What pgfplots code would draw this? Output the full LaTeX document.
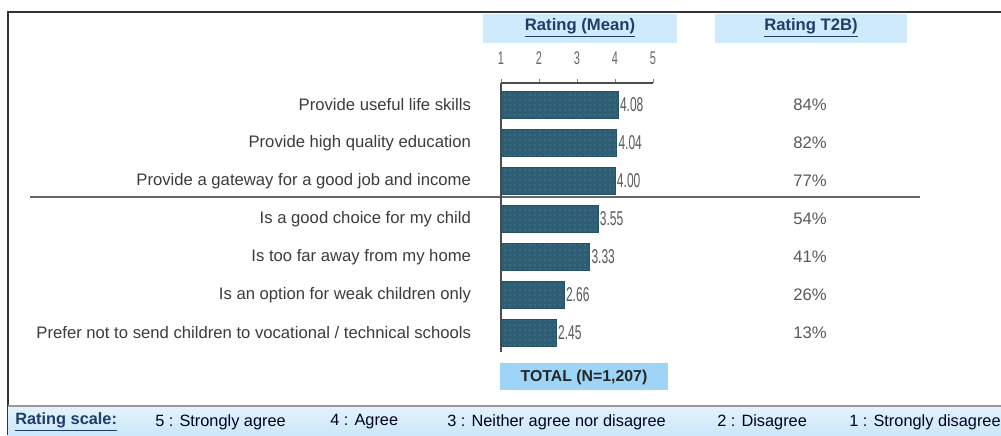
\documentclass[border=0pt]{standalone}
\usepackage{fontspec}
\setmainfont{Liberation Sans}
\usepackage{graphicx}
\usepackage{pgfplots}
\pgfplotsset{compat=1.18}
\usepackage{pgfplotstable}
\usetikzlibrary{patterns}

\definecolor{barfill}{HTML}{2E5E74}
\definecolor{bardot}{HTML}{46798E}
\definecolor{hdrblue}{HTML}{CFEAFB}
\definecolor{hdrtext}{HTML}{1F3D6B}
\definecolor{totblue}{HTML}{9ED5F6}
\definecolor{striptop}{HTML}{E4F3FC}
\definecolor{stripbot}{HTML}{CBE7F9}
\definecolor{labgray}{HTML}{3C3C3C}

% y = row position (7 = top row), mean rating, top-2-box share
\pgfplotstableread{
y mean t2b
7 4.08 84
6 4.04 82
5 4.00 77
4 3.55 54
3 3.33 41
2 2.66 26
1 2.45 13
}\ratings

\newcommand{\narrow}[1]{\scalebox{0.6}[1]{#1}}

\begin{document}
\begin{tikzpicture}
\begin{scope}[x=0.6pt,y=-0.6pt]
  \fill[white] (0,0) rectangle (1001,435);
  \useasboundingbox (0,0) rectangle (1001,435);
  % frame
  \draw[black!80, line width=0.9pt] (8,435) -- (8,12) -- (1001,12);
  % headers
  \fill[hdrblue] (483,14) rectangle (677,43);
  \fill[hdrblue] (715,14) rectangle (907,43);
  \node[font=\bfseries\fontsize{10}{12}\selectfont, text=hdrtext] at (580,28) {\underline{Rating (Mean)}};
  \node[font=\bfseries\fontsize{10}{12}\selectfont, text=hdrtext] at (811,28) {\underline{Rating T2B)}};
  % separator between groups
  \draw[black!60, line width=1pt] (30,197) -- (920,197);
  % total box
  \fill[totblue] (500,363) rectangle (668,390);
  \node[font=\bfseries\fontsize{9.5}{12}\selectfont, text=black!85] at (584,377) {TOTAL (N=1,207)};
  % rating scale strip
  \shade[top color=striptop, bottom color=stripbot] (8,406) rectangle (1001,435);
  \draw[black!40, line width=1.2pt] (8,406) -- (1001,406);
  \begin{scope}[every node/.style={anchor=west, font=\fontsize{9.8}{12}\selectfont, text=black!75!blue!60!black, inner sep=0pt}]
    \node[font=\bfseries\fontsize{9.8}{12}\selectfont, text=hdrtext] at (15,422) {\underline{Rating scale:}};
    \node at (155,422) {5 : Strongly agree};
    \node at (330,422) {4 : Agree};
    \node at (447,422) {3 : Neither agree nor disagree};
    \node at (717,422) {2 : Disagree};
    \node at (849,422) {1 : Strongly disagree};
  \end{scope}
\end{scope}

\begin{axis}[
  at={(300.6pt,-49.8pt)}, anchor=north west,
  scale only axis,
  width=91.2pt, height=161.4pt,
  xmin=0, xmax=4,
  ymin=0.5, ymax=7.58,
  axis x line=top, axis y line=left,
  axis line style={-, black!70, line width=0.7pt},
  /pgf/number format/assume math mode=true,
  xtick={0,1,2,3,4},
  xticklabels={\narrow{1},\narrow{2},\narrow{3},\narrow{4},\narrow{5}},
  xticklabel style={font=\fontsize{11}{11}\selectfont, text=black!60, yshift=5pt},
  ytick={1,2,3,4,5,6,7},
  yticklabels={
    {Prefer not to send children to vocational / technical schools},
    {Is an option for weak children only},
    {Is too far away from my home},
    {Is a good choice for my child},
    {Provide a gateway for a good job and income},
    {Provide high quality education},
    {Provide useful life skills}
  },
  yticklabel style={font=\fontsize{10}{12}\selectfont, text=labgray, xshift=-12pt},
  y tick style={draw=none},
  x tick style={black!50},
  tick align=outside,
  major tick length=2.5pt,
  clip=false,
]
  \addplot[
    xbar, bar width=0.71,
    fill=barfill, draw=barfill!85!black,
    postaction={pattern=dots, pattern color=bardot},
    point meta=explicit,
    nodes near coords={\narrow{\pgfmathprintnumber[fixed,fixed zerofill,precision=2,assume math mode=true]{\pgfplotspointmeta}}},
    nodes near coords style={font=\fontsize{12}{12}\selectfont, text=black!65, anchor=west, inner sep=1pt},
  ] table[x expr=\thisrow{mean}-1, y=y, meta=mean] {\ratings};

  \addplot[
    only marks, mark=*, mark size=0pt, mark options={draw=none, fill=none},
    point meta=explicit symbolic,
    nodes near coords={\pgfplotspointmeta\%},
    nodes near coords style={anchor=center, font=\fontsize{10}{12}\selectfont, text=black!65},
  ] table[x expr=8.13, y=y, meta=t2b] {\ratings};
\end{axis}
\end{tikzpicture}
\end{document}
